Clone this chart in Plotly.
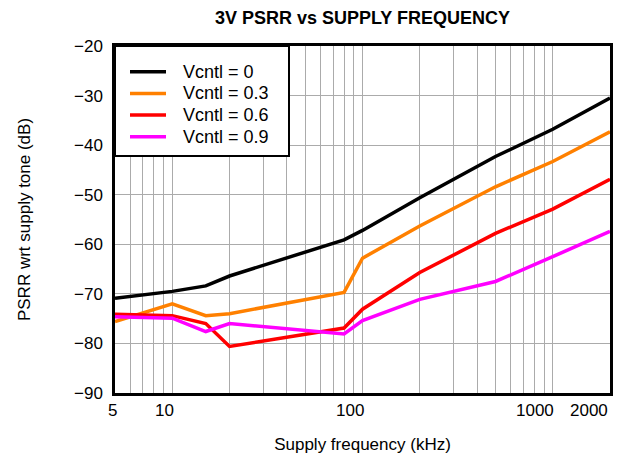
import math
import plotly.graph_objects as go

# Supply frequency sweep (kHz) and PSRR (dB) for each control voltage
freq_khz = [5, 10, 15, 20, 80, 100, 200, 500, 1000, 2000]
psrr_v0 = [-70.9, -69.5, -68.4, -66.4, -59.1, -57.2, -50.6, -42.3, -36.8, -30.5]
psrr_v03 = [-75.6, -72.0, -74.4, -74.0, -69.7, -62.8, -56.3, -48.4, -43.3, -37.3]
psrr_v06 = [-74.1, -74.4, -76.0, -80.6, -76.9, -73.1, -65.7, -57.8, -52.9, -46.9]
psrr_v09 = [-74.6, -74.9, -77.6, -76.0, -78.1, -75.4, -71.1, -67.5, -62.5, -57.4]

series_names = ["Vcntl = 0", "Vcntl = 0.3", "Vcntl = 0.6", "Vcntl = 0.9"]
series_values = [psrr_v0, psrr_v03, psrr_v06, psrr_v09]
series_colors = ["#000000", "#FF8000", "#FF0000", "#FF00FF"]

# Axis ticks / grid
x_grid_vals = [5, 6, 7, 8, 9, 10, 20, 30, 40, 50, 60, 70, 80, 90,
               100, 200, 300, 400, 500, 600, 700, 800, 900, 1000, 2000]
x_label_vals = [5, 10, 100, 1000, 2000]
x_label_text = ["5", "10", "100", "1000", "2000"]
y_tick_vals = [-90, -80, -70, -60, -50, -40, -30, -20]
y_tick_text = ["\u2212" + str(abs(v)) for v in y_tick_vals]

W, H = 632, 460
M_L, M_R, M_T, M_B = 115, 22, 46, 67
PW, PH = W - M_L - M_R, H - M_T - M_B

FONT = "Liberation Sans, Arial, sans-serif"

fig = go.Figure()
for name, vals, col in zip(series_names, series_values, series_colors):
    fig.add_trace(go.Scatter(
        x=freq_khz, y=vals, mode="lines", name=name,
        line=dict(color=col, width=3.5), showlegend=False,
    ))

# Legend box with line samples and labels, laid out in pixel offsets
box_w, box_h = 174, 110
row_top, row_gap = 25.7, 21.7
sample_x0, sample_x1, text_x = 15, 51, 66
shapes = [dict(type="rect", xref="paper", yref="paper",
               x0=0, x1=box_w / PW, y0=1 - box_h / PH, y1=1,
               line=dict(color="black", width=2), fillcolor="white", layer="above")]
annotations = []
for i, (name, col) in enumerate(zip(series_names, series_colors)):
    yy = 1 - (row_top + i * row_gap) / PH
    shapes.append(dict(type="line", xref="paper", yref="paper",
                       x0=sample_x0 / PW, x1=sample_x1 / PW, y0=yy, y1=yy,
                       line=dict(color=col, width=3.5), layer="above"))
    annotations.append(dict(xref="paper", yref="paper", x=text_x / PW, y=yy,
                            text=name, showarrow=False, xanchor="left", yanchor="middle",
                            font=dict(size=18, color="black", family=FONT)))

# Frequency tick labels, right-aligned just past their grid line
for v, t in zip(x_label_vals, x_label_text):
    annotations.append(dict(xref="x", yref="paper", x=math.log10(v), y=0,
                            xshift=3.5 if v != 2000 else 0, yshift=-6,
                            text=t, showarrow=False, xanchor="right", yanchor="top",
                            font=dict(size=17, color="black", family=FONT)))

fig.update_layout(
    width=W, height=H,
    margin=dict(l=M_L, r=M_R, t=M_T, b=M_B),
    paper_bgcolor="white", plot_bgcolor="white",
    font=dict(family=FONT, color="black", size=17),
    title=dict(text="<b>3V PSRR vs SUPPLY FREQUENCY</b>", x=0.5, xref="paper",
               y=1 - 18 / H, yref="container", yanchor="middle",
               font=dict(size=18, family=FONT, color="black")),
    shapes=shapes,
    annotations=annotations,
)

fig.update_xaxes(
    type="log", range=[math.log10(5), math.log10(2000)],
    tickvals=x_grid_vals, showticklabels=False, ticks="",
    showgrid=True, gridcolor="#ababab", gridwidth=1,
    showline=True, linecolor="black", linewidth=2.5, mirror=True,
    zeroline=False, automargin=False,
    title=dict(text="Supply frequency (kHz)", font=dict(size=17), standoff=44),
)
fig.update_yaxes(
    range=[-90, -20], tickvals=y_tick_vals, ticktext=y_tick_text,
    ticks="", ticklabelstandoff=6,
    showgrid=True, gridcolor="#ababab", gridwidth=1,
    showline=True, linecolor="black", linewidth=2.5, mirror=True,
    zeroline=False, tickfont=dict(size=17), automargin=False,
    title=dict(text="PSRR wrt supply tone (dB)", font=dict(size=17), standoff=40),
)

fig.write_html("out.html")
